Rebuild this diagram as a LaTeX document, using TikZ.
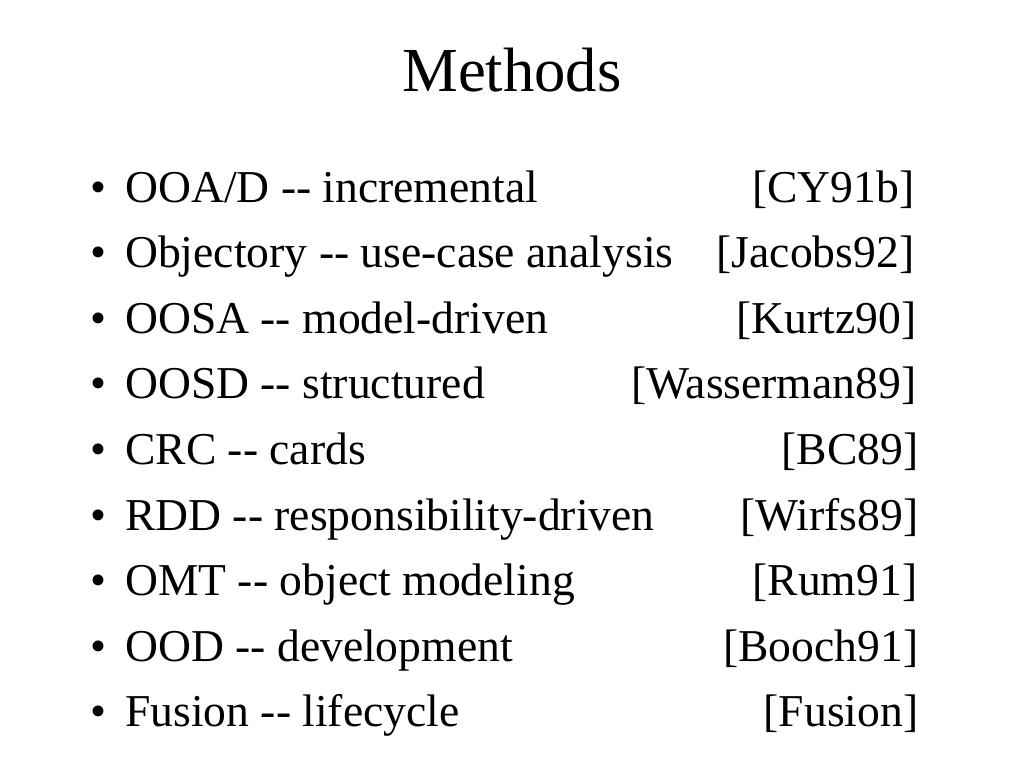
\documentclass[tikz,border=0pt]{standalone}
\usepackage{fontspec}
\setmainfont{Liberation Serif}
\begin{document}
\begin{tikzpicture}[x=0.75pt,y=-0.75pt,
  titletext/.style={anchor=base,inner sep=0pt,font=\fontsize{47}{56}\selectfont},
  bullettext/.style={anchor=base west,inner sep=0pt,font=\fontsize{34.2}{40}\selectfont},
  itemtext/.style={anchor=base west,inner sep=0pt,font=\fontsize{34.2}{40}\selectfont},
  reftext/.style={anchor=base east,inner sep=0pt,font=\fontsize{34.2}{40}\selectfont}]
\useasboundingbox[fill=white] (0,0) rectangle (1024,768);
\node[titletext] (title) at (512,91) {Methods};
\foreach \i/\y/\txt/\r/\ref in {
  1/202/{OOA/D -{}- incremental}/914.5/{[CY91b]},
  2/267.6/{Objectory -{}- use-case analysis}/914.5/{[Jacobs92]},
  3/333.2/{OOSA -{}- model-driven}/916.5/{[Kurtz90]},
  4/398.8/{OOSD -{}- structured}/916.5/{[Wasserman89]},
  5/464.4/{CRC -{}- cards}/918.5/{[BC89]},
  6/530/{RDD -{}- responsibility-driven}/918.5/{[Wirfs89]},
  7/595.6/{OMT -{}- object modeling}/917.5/{[Rum91]},
  8/661.2/{OOD -{}- development}/918.5/{[Booch91]},
  9/726.8/{Fusion -{}- lifecycle}/918.5/{[Fusion]}}{
  \node[bullettext] (b\i) at (90,\y) {•};
  \node[itemtext] (t\i) at (125,\y) {\txt};
  \node[reftext] (r\i) at (\r,\y) {\ref};
}
\end{tikzpicture}
\end{document}
